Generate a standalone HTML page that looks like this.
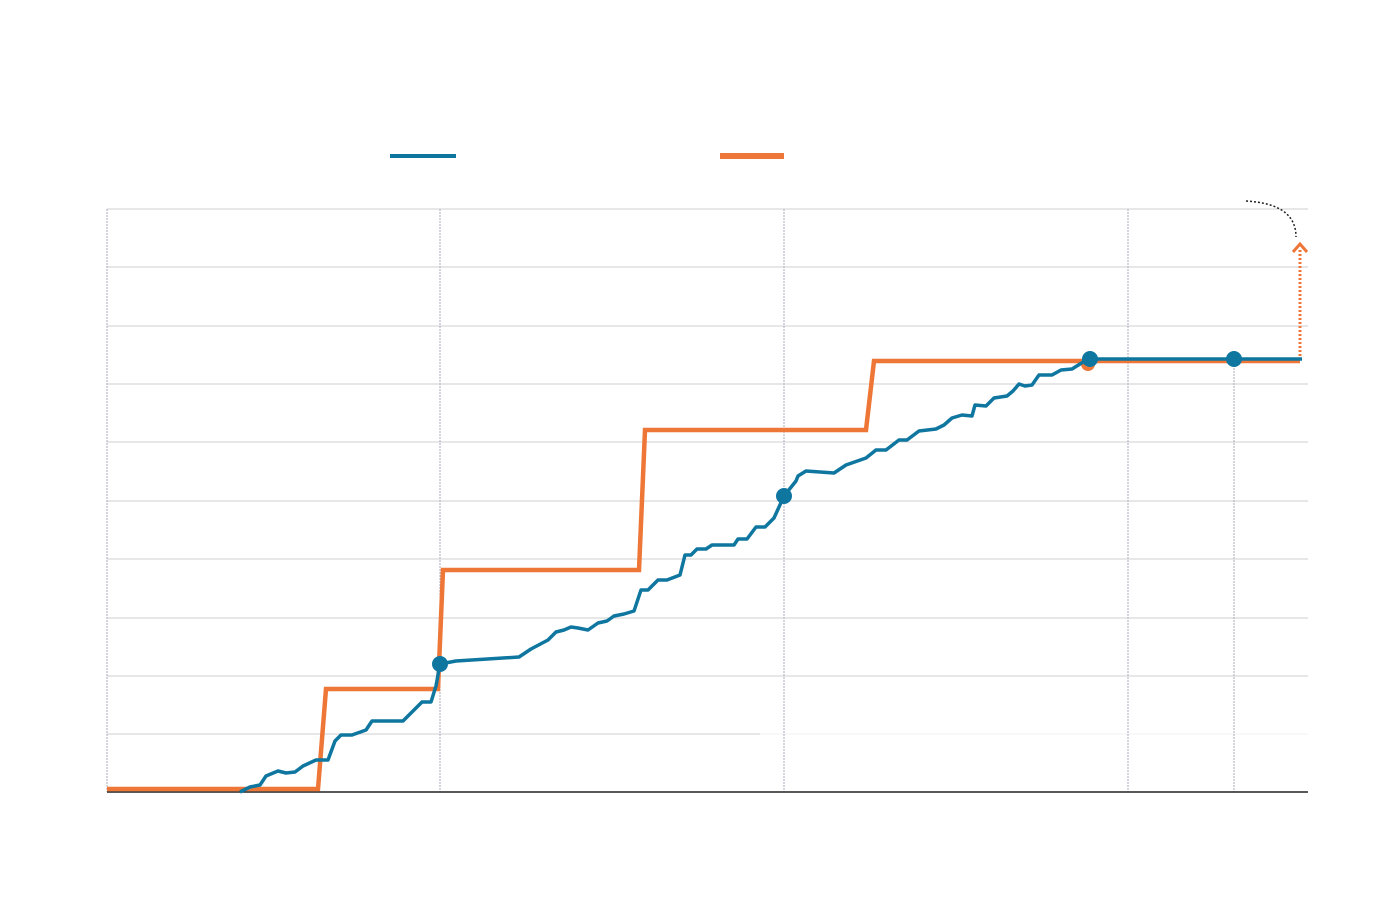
<!DOCTYPE html>
<html><head><style>body{margin:0;background:#fff}svg{display:block}</style></head>
<body>
<svg width="1400" height="920" viewBox="0 0 1400 920" xmlns="http://www.w3.org/2000/svg">
<g stroke="#cfcfcf" stroke-width="1">
<line x1="107" y1="209" x2="1308" y2="209"/><line x1="107" y1="267" x2="1308" y2="267"/>
<line x1="107" y1="326" x2="1308" y2="326"/><line x1="107" y1="384" x2="1308" y2="384"/>
<line x1="107" y1="442" x2="1308" y2="442"/><line x1="107" y1="501" x2="1308" y2="501"/>
<line x1="107" y1="559" x2="1308" y2="559"/><line x1="107" y1="618" x2="1308" y2="618"/>
<line x1="107" y1="676" x2="1308" y2="676"/><line x1="107" y1="734" x2="760" y2="734"/>
<line x1="760" y1="734" x2="1308" y2="734" stroke="#f0f0f0"/>
</g>
<g stroke="#a8a8b8" stroke-width="1" stroke-dasharray="2,1">
<line x1="107" y1="209" x2="107" y2="792"/><line x1="440" y1="209" x2="440" y2="792"/>
<line x1="784" y1="209" x2="784" y2="792"/><line x1="1128" y1="209" x2="1128" y2="792"/>
<line x1="1234" y1="359" x2="1234" y2="792"/>
</g>
<line x1="107" y1="792" x2="1308" y2="792" stroke="#222" stroke-width="1.5"/>
<line x1="390" y1="156" x2="456" y2="156" stroke="#0f76a0" stroke-width="4"/>
<line x1="720" y1="156" x2="784" y2="156" stroke="#ee7637" stroke-width="6"/>
<path d="M1246 201 C1280 203 1296 215 1296 237" fill="none" stroke="#222" stroke-width="1.5" stroke-dasharray="2,2"/>
<line x1="1300" y1="356" x2="1300" y2="250" stroke="#ee7637" stroke-width="3" stroke-dasharray="2,2"/>
<path d="M1293 252 L1300 244 L1307 252" fill="none" stroke="#ee7637" stroke-width="3"/>
<path d="M107 789 L318 789 L326 689 L438 689 L443 570 L639 570 L645 430 L866 430 L874 361 L1300 361" fill="none" stroke="#ee7637" stroke-width="4.5"/>
<circle cx="1088" cy="364" r="7" fill="#ee7637"/>
<path d="M240 792 L250 787 L260 785 L266 776 L278 771 L286 773 L295 772 L303 766 L316 760 L328 760 L335 741 L341 735 L352 735 L366 730 L372 721 L403 721 L411 713 L422 702 L431 702 L436 686 L440 664 L456 661 L519 657 L531 649 L548 640 L556 632 L564 630 L571 627 L578 628 L588 630 L598 623 L607 621 L614 616 L624 614 L634 611 L641 590 L648 590 L658 580 L667 580 L680 575 L685 555 L691 555 L697 549 L706 549 L712 545 L734 545 L738 539 L747 539 L756 527 L765 527 L774 518 L784 496 L796 481 L798 476 L806 471 L834 473 L846 465 L866 458 L876 450 L886 450 L899 440 L907 440 L919 431 L936 429 L944 425 L952 418 L962 415 L972 416 L975 405 L986 406 L994 398 L1007 396 L1013 391 L1019 384 L1025 386 L1032 385 L1039 375 L1052 375 L1061 370 L1072 369 L1088 359 L1302 359" fill="none" stroke="#0f76a0" stroke-width="3.5" stroke-linejoin="round"/>
<g fill="#0f76a0">
<circle cx="440" cy="664" r="8"/><circle cx="784" cy="496" r="8"/>
<circle cx="1090" cy="359" r="8"/><circle cx="1234" cy="359" r="8"/>
</g>
</svg>
</body></html>
